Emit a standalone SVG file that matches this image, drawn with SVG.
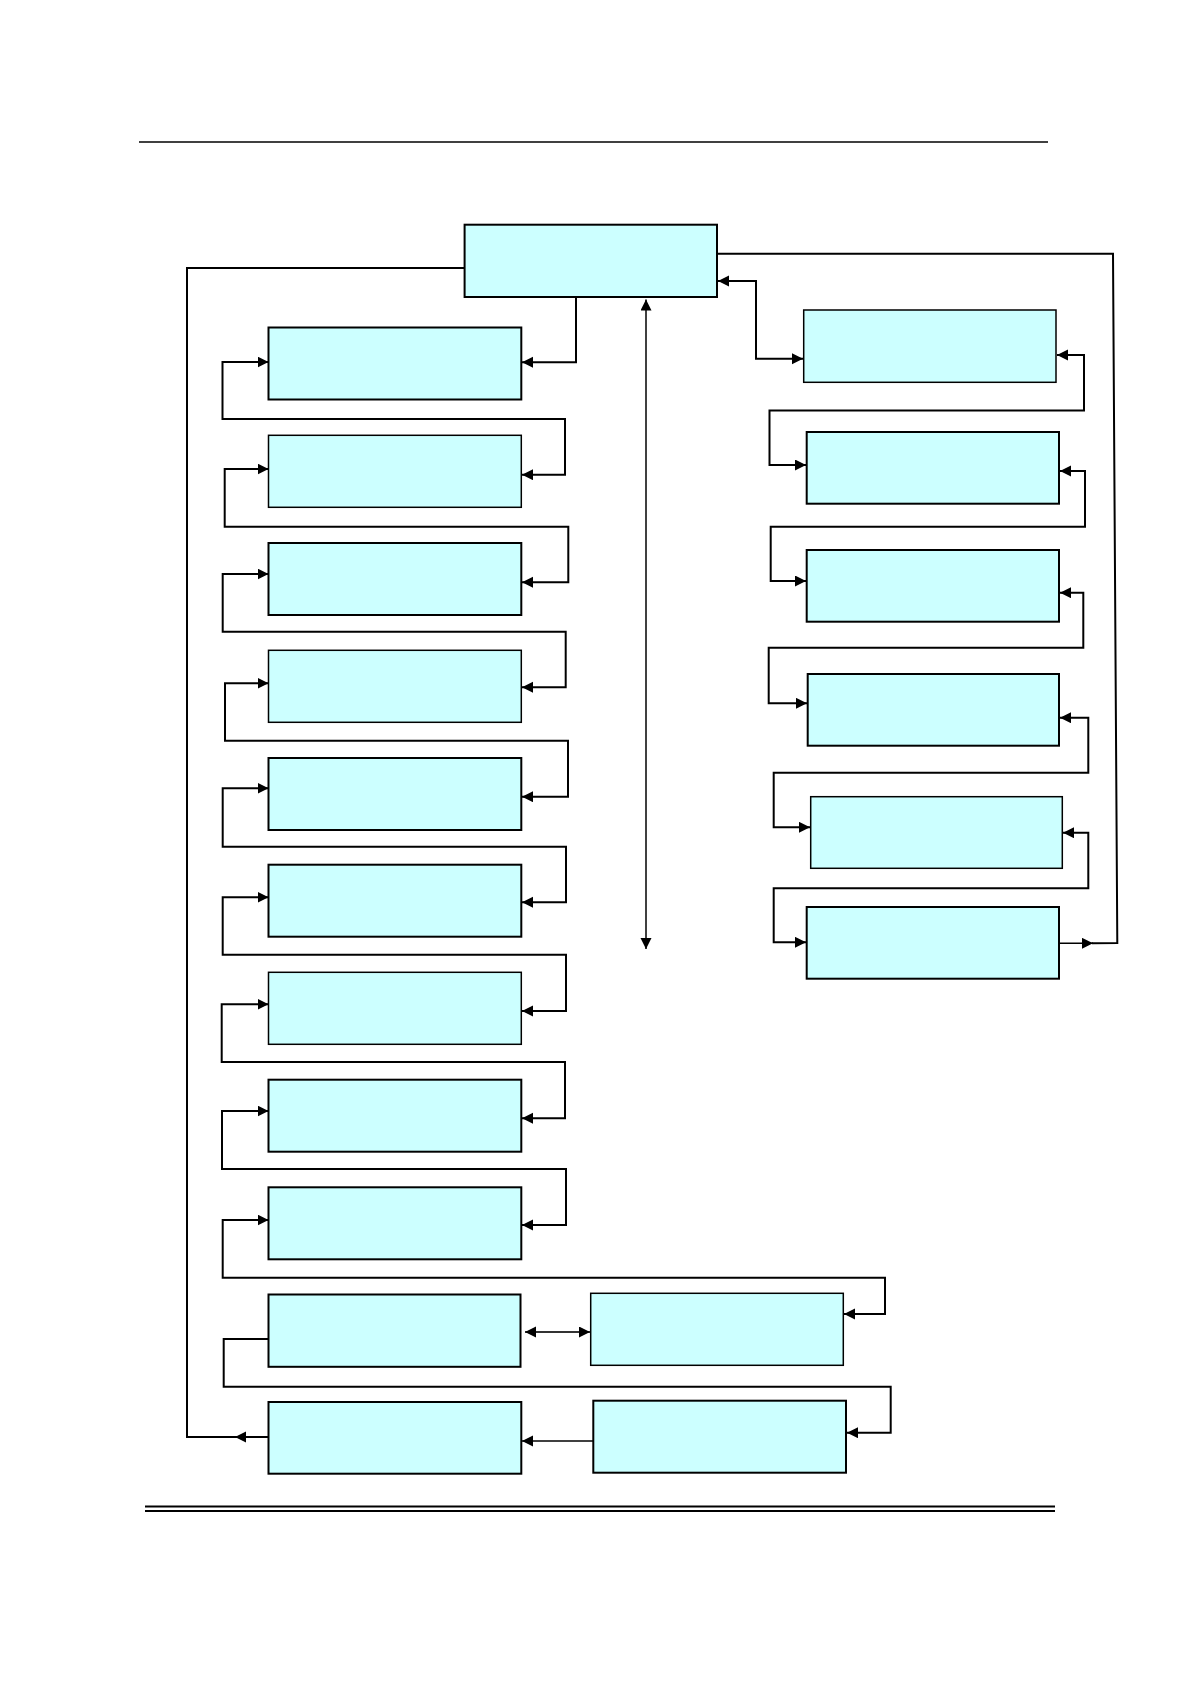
<svg xmlns="http://www.w3.org/2000/svg" width="1190" height="1684" viewBox="0 0 1190 1684">
<style>
.box{fill:#CCFFFF;stroke:#000;stroke-width:2}
.thin{stroke-width:1.5}
.c{fill:none;stroke:#000;stroke-width:2}
.c2{fill:none;stroke:#000;stroke-width:1.5}
.cg{fill:none;stroke:#333;stroke-width:1.8}
.rule{stroke:#000;fill:none}
</style>
<defs>
<marker id="ah" markerUnits="userSpaceOnUse" markerWidth="12" markerHeight="12" refX="11" refY="5.5" orient="auto-start-reverse">
<path d="M0,0 L11,5.5 L0,11 z" fill="#000"/>
</marker>
</defs>
<rect width="1190" height="1684" fill="#fff"/>
<line class="rule" x1="139" y1="142" x2="1048" y2="142" stroke-width="1.3"/>
<line class="rule" x1="145" y1="1506.5" x2="1055" y2="1506.5" stroke-width="2"/>
<line class="rule" x1="145" y1="1511" x2="1055" y2="1511" stroke-width="2.2"/>

<g id="connectors">
<path class="c" d="M576,297 V362.3 H522" marker-end="url(#ah)"/>
<path class="c" d="M268.5,362 H222.5 V419 H565 V474.7 H522" marker-start="url(#ah)" marker-end="url(#ah)"/>
<path class="c" d="M268.5,469 H224.7 V526.7 H568.3 V582.3 H522" marker-start="url(#ah)" marker-end="url(#ah)"/>
<path class="c" d="M268.5,574 H222.7 V631.7 H565.7 V687.3 H522" marker-start="url(#ah)" marker-end="url(#ah)"/>
<path class="c" d="M268.5,683.3 H225 V740.7 H568 V796.7 H522" marker-start="url(#ah)" marker-end="url(#ah)"/>
<path class="c" d="M268.5,788.3 H222.7 V846.7 H566 V902.3 H522" marker-start="url(#ah)" marker-end="url(#ah)"/>
<path class="c" d="M268.5,897.3 H222.7 V954.7 H566 V1011 H522" marker-start="url(#ah)" marker-end="url(#ah)"/>
<path class="c" d="M268.5,1004.3 H221.7 V1062 H565 V1118.3 H522" marker-start="url(#ah)" marker-end="url(#ah)"/>
<path class="c" d="M268.5,1111 H222 V1169 H566 V1225 H522" marker-start="url(#ah)" marker-end="url(#ah)"/>
<path class="c" d="M268.5,1220 H222.7 V1277.7 H885 V1314 H844" marker-start="url(#ah)" marker-end="url(#ah)"/>
<path class="c" d="M268.5,1339 H223.7 V1386.7 H890.7 V1432.7 H847" marker-end="url(#ah)"/>
<path class="cg" d="M525,1332 H590" marker-start="url(#ah)" marker-end="url(#ah)"/>
<path class="c2" d="M593,1441 H522" marker-end="url(#ah)"/>
<path class="c" d="M268.5,1437 H235" marker-end="url(#ah)"/>
<path class="c" d="M236,1437 H187 V268 H467.5"/>
<path class="c2" d="M646,299.5 V949" marker-start="url(#ah)" marker-end="url(#ah)"/>
<path class="c" d="M718,281 H756 V358.7 H803" marker-start="url(#ah)" marker-end="url(#ah)"/>
<path class="c" d="M1057,355 H1084 V410.5 H769.5 V465 H806" marker-start="url(#ah)" marker-end="url(#ah)"/>
<path class="c" d="M1060,471 H1085 V526.7 H770.7 V581 H806" marker-start="url(#ah)" marker-end="url(#ah)"/>
<path class="c" d="M1060,592.7 H1083.3 V647.7 H768.7 V703.3 H807" marker-start="url(#ah)" marker-end="url(#ah)"/>
<path class="c" d="M1060,717.7 H1088.3 V772.7 H773.7 V827.3 H810" marker-start="url(#ah)" marker-end="url(#ah)"/>
<path class="c" d="M1063,832.7 H1088.3 V888.3 H773.7 V942.3 H806" marker-start="url(#ah)" marker-end="url(#ah)"/>
<path class="c2" d="M1059,943.3 H1093" marker-end="url(#ah)"/>
<path class="c" d="M1092,943.3 L1117.3,943 L1113,253.7 H718"/>
</g>

<g id="top"><rect class="box" x="464.6" y="224.7" width="252.4" height="72.3"/></g>
<g id="L1"><rect class="box" x="268.5" y="327.5" width="252.8" height="72"/></g>
<g id="L2"><rect class="box thin" x="268.5" y="435.3" width="252.8" height="72"/></g>
<g id="L3"><rect class="box" x="268.5" y="543" width="252.8" height="72"/></g>
<g id="L4"><rect class="box thin" x="268.5" y="650.3" width="252.8" height="72"/></g>
<g id="L5"><rect class="box" x="268.5" y="758" width="252.8" height="72"/></g>
<g id="L6"><rect class="box" x="268.5" y="864.7" width="252.8" height="72"/></g>
<g id="L7"><rect class="box thin" x="268.5" y="972.3" width="252.8" height="72"/></g>
<g id="L8"><rect class="box" x="268.5" y="1079.7" width="252.8" height="72"/></g>
<g id="L9"><rect class="box" x="268.5" y="1187.3" width="252.8" height="72"/></g>
<g id="L10"><rect class="box" x="268.5" y="1294.5" width="252" height="72.3"/></g>
<g id="L11"><rect class="box" x="268.5" y="1402" width="252.8" height="71.7"/></g>
<g id="R1"><rect class="box thin" x="803.7" y="310" width="252.3" height="72.3"/></g>
<g id="R2"><rect class="box" x="806.7" y="432" width="252.3" height="71.7"/></g>
<g id="R3"><rect class="box" x="806.7" y="550" width="252.3" height="71.7"/></g>
<g id="R4"><rect class="box" x="807.7" y="674" width="251.3" height="71.7"/></g>
<g id="R5"><rect class="box thin" x="810.7" y="796.7" width="251.6" height="71.6"/></g>
<g id="R6"><rect class="box" x="806.7" y="907" width="252.3" height="71.7"/></g>
<g id="R10"><rect class="box thin" x="590.7" y="1293.3" width="252.6" height="72"/></g>
<g id="R11"><rect class="box" x="593.3" y="1400.7" width="252.7" height="72"/></g>
</svg>
